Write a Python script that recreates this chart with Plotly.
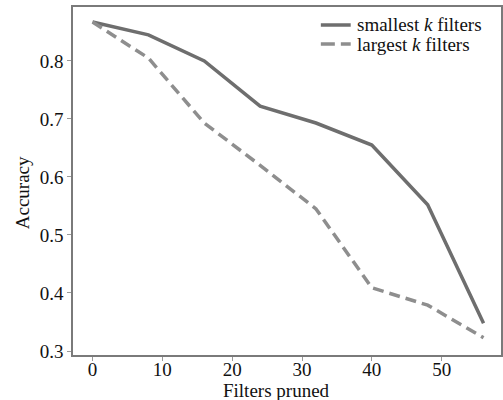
import plotly.graph_objects as go

filters_pruned = [0, 8, 16, 24, 32, 40, 48, 56]
smallest_k = [0.867, 0.845, 0.800, 0.722, 0.693, 0.655, 0.552, 0.348]
largest_k = [0.867, 0.805, 0.693, 0.620, 0.545, 0.409, 0.379, 0.323]
y_ticks = [0.3, 0.4, 0.5, 0.6, 0.7, 0.8]
x_ticks = [0, 10, 20, 30, 40, 50]
series_names = ["smallest <i>k</i> filters", "largest <i>k</i> filters"]

font_family = "Liberation Serif, Times New Roman, serif"
solid_color = "#6e6e6e"
dash_color = "#8e8e8e"
dash_pattern = "11px,6px"

W, H = 503, 400
ML, MR, MT, MB = 73, 0, 7, 45
PW, PH = W - ML - MR, H - MT - MB


def px(xp):
    return (xp - ML) / PW


def py(yp):
    return (H - MB - yp) / PH


fig = go.Figure()
fig.add_trace(go.Scatter(
    x=filters_pruned, y=smallest_k, mode="lines", name=series_names[0],
    line=dict(color=solid_color, width=3.5),
))
fig.add_trace(go.Scatter(
    x=filters_pruned, y=largest_k, mode="lines", name=series_names[1],
    line=dict(color=dash_color, width=3.5, dash=dash_pattern),
))

# manual legend
legend_rows = [25, 44]
styles = [dict(color=solid_color, width=3.5),
          dict(color=dash_color, width=3.5, dash="14px,6px")]
shapes = []
annotations = []
for name, yrow, st in zip(series_names, legend_rows, styles):
    shapes.append(dict(type="line", xref="paper", yref="paper",
                       x0=px(322), x1=px(352), y0=py(yrow), y1=py(yrow), line=st))
    annotations.append(dict(text=name, xref="paper", yref="paper", x=px(356), y=py(yrow),
                            xanchor="left", yanchor="middle", showarrow=False,
                            font=dict(size=19, color="#111111")))

annotations.append(dict(text="Filters pruned", xref="paper", yref="paper",
                        x=px(277), y=py(390), xanchor="center", yanchor="middle",
                        showarrow=False, font=dict(size=19, color="#111111")))
annotations.append(dict(text="Accuracy", xref="paper", yref="paper",
                        x=px(22), y=py(193), xanchor="center", yanchor="middle",
                        textangle=-90, showarrow=False, font=dict(size=19, color="#111111")))

fig.update_layout(
    width=W, height=H,
    margin=dict(l=ML, r=MR, t=MT, b=MB),
    paper_bgcolor="white", plot_bgcolor="white",
    font=dict(family=font_family, size=19, color="#111111"),
    showlegend=False,
    shapes=shapes,
    annotations=annotations,
    xaxis=dict(
        range=[-2.8, 58.5], tickvals=x_ticks,
        showgrid=False, zeroline=False,
        showline=True, linecolor="#7a7a7a", linewidth=1.5, mirror=True,
        ticks="outside", ticklen=4, tickcolor="#9a9a9a",
        tickfont=dict(size=19), ticklabelstandoff=-8,
    ),
    yaxis=dict(
        range=[0.2931, 0.893], tickvals=y_ticks, tickformat=".1f",
        showgrid=False, zeroline=False,
        showline=True, linecolor="#7a7a7a", linewidth=1.5, mirror=True,
        ticks="outside", ticklen=4, tickcolor="#9a9a9a",
        tickfont=dict(size=19),
    ),
)

fig.write_html("out.html")
